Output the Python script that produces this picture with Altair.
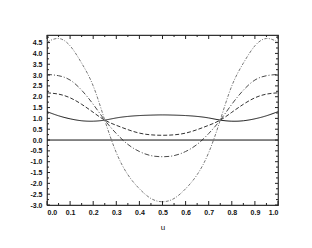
import altair as alt
import pandas as pd

u = [0.0, 0.05, 0.1, 0.15, 0.2, 0.25, 0.3, 0.35, 0.4, 0.45, 0.5,
     0.55, 0.6, 0.65, 0.7, 0.75, 0.8, 0.85, 0.9, 0.95, 1.0]
s1 = [1.31, 1.12, 0.98, 0.89, 0.87, 0.92, 1.02, 1.09, 1.13, 1.15, 1.16,
      1.15, 1.13, 1.09, 1.02, 0.92, 0.87, 0.89, 0.98, 1.12, 1.31]
s2 = [2.18, 2.12, 1.95, 1.65, 1.28, 0.92, 0.68, 0.48, 0.32, 0.24, 0.22,
      0.24, 0.32, 0.48, 0.68, 0.92, 1.28, 1.65, 1.95, 2.12, 2.18]
s3 = [3.03, 2.97, 2.77, 2.30, 1.65, 0.92, 0.30, -0.20, -0.53, -0.72, -0.77,
      -0.72, -0.53, -0.20, 0.30, 0.92, 1.65, 2.30, 2.77, 2.97, 3.03]
s4 = [4.52, 4.69, 4.35, 3.55, 2.50, 0.92, -0.58, -1.60, -2.25, -2.70, -2.85,
      -2.70, -2.25, -1.60, -0.58, 0.92, 2.50, 3.55, 4.35, 4.69, 4.52]

names = ["s1", "s2", "s3", "s4"]
colors = ["#1a1a1a", "#333333", "#4a4a4a", "#777777"]
dashes = [[1, 0], [4, 2], [5, 2, 1, 2], [3, 1.5, 1, 1.5]]

x_major = [0.0, 0.1, 0.2, 0.3, 0.4, 0.5, 0.6, 0.7, 0.8, 0.9, 1.0]
x_minor = [0.05, 0.15, 0.25, 0.35, 0.45, 0.55, 0.65, 0.75, 0.85, 0.95]
y_major = [-3.0, -2.5, -2.0, -1.5, -1.0, -0.5, 0.0, 0.5, 1.0, 1.5, 2.0,
           2.5, 3.0, 3.5, 4.0, 4.5]
y_minor = [-2.75, -2.25, -1.75, -1.25, -0.75, -0.25, 0.25, 0.75, 1.25,
           1.75, 2.25, 2.75, 3.25, 3.75, 4.25, 4.75]

W, H = 231, 170

rows = []
for name, vals in zip(names, [s1, s2, s3, s4]):
    for uu, vv in zip(u, vals):
        rows.append({"u": uu, "v": vv, "series": name})
df = pd.DataFrame(rows)

xscale = alt.Scale(domain=[0, 1], nice=False, zero=False)
yscale = alt.Scale(domain=[-3, 4.85], nice=False, zero=False)
lab = "(datum.value<0?'-':'') + format(abs(datum.value),'.1f')"

xaxis = alt.Axis(values=x_major, labelExpr=lab, title="u", tickSize=0,
                 labelPadding=3, grid=False, domain=False,
                 labelFontSize=7, labelFont="Liberation Sans",
                 labelFontWeight="bold", labelColor="#111",
                 titleFont="Liberation Sans", titleFontSize=8,
                 titleFontWeight="normal", titlePadding=8, titleColor="#111")
yaxis = alt.Axis(values=y_major, labelExpr=lab, title=None, tickSize=0,
                 labelPadding=5, grid=False, domain=False,
                 labelFontSize=7, labelFont="Liberation Sans",
                 labelFontWeight="bold", labelColor="#111")

lines = alt.Chart(df).mark_line(interpolate="natural", strokeWidth=1, clip=True).encode(
    x=alt.X("u:Q", scale=xscale, axis=xaxis),
    y=alt.Y("v:Q", scale=yscale, axis=yaxis),
    color=alt.Color("series:N", scale=alt.Scale(domain=names, range=colors), legend=None),
    strokeDash=alt.StrokeDash("series:N", scale=alt.Scale(domain=names, range=dashes), legend=None),
)

zero = alt.Chart(pd.DataFrame({"v": [0.0]})).mark_rule(color="#111", strokeWidth=1).encode(
    y=alt.Y("v:Q", scale=yscale, axis=yaxis)
)

def yt(vals, x1, x2):
    return alt.Chart(pd.DataFrame({"v": vals})).mark_rule(color="#222", strokeWidth=1).encode(
        y=alt.Y("v:Q", scale=yscale, axis=yaxis), x=alt.value(x1), x2=alt.value(x2))

def xt(vals, y1, y2):
    return alt.Chart(pd.DataFrame({"u": vals})).mark_rule(color="#222", strokeWidth=1).encode(
        x=alt.X("u:Q", scale=xscale, axis=xaxis), y=alt.value(y1), y2=alt.value(y2))

ticks = [
    yt(y_major, 0, 3), yt(y_minor, 0, 2),
    yt(y_major, W, W - 3), yt(y_minor, W, W - 2),
    xt(x_major, H, H - 4), xt(x_minor, H, H - 2),
    xt(x_major, 0, 4), xt(x_minor, 0, 2),
]

chart = alt.layer(lines, zero, *ticks).properties(
    width=W, height=H,
    autosize=alt.AutoSizeParams(type="none"),
    padding={"left": 39, "top": 27, "right": 20, "bottom": 30},
).configure_view(stroke="#333", strokeWidth=1.2)

chart.save("out.html", embed_options={"renderer": "svg", "actions": False})
